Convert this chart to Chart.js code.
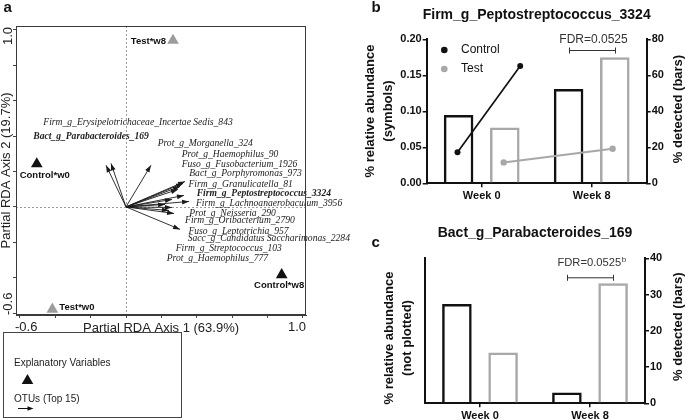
<!DOCTYPE html>
<html>
<head>
<meta charset="utf-8">
<script src="https://cdn.jsdelivr.net/npm/chart.js@4.4.1/dist/chart.umd.min.js"></script>
<style>
html,body{margin:0;padding:0;background:#ffffff;}
body{width:685px;height:420px;position:relative;overflow:hidden;}
.box{position:absolute;}
</style>
</head>
<body>
<div class="box" style="left:0;top:0;width:360px;height:420px;"><canvas id="chartA"></canvas></div>
<div class="box" style="left:360px;top:0;width:325px;height:210px;"><canvas id="chartB"></canvas></div>
<div class="box" style="left:360px;top:0;width:325px;height:210px;"><canvas id="chartBSymbols"></canvas></div>
<div class="box" style="left:360px;top:210px;width:325px;height:210px;"><canvas id="chartC"></canvas></div>
<script>
// ================= DATA =================
// Panel a: partial RDA biplot
const rdaTickValues = [-0.6, -0.4, -0.2, 0, 0.2, 0.4, 0.6, 0.8, 1.0];
const rdaTickLabels = ['-0.6', '', '', '', '', '', '', '', '1.0'];
const axis1Title = 'Partial RDA Axis 1 (63.9%)';
const axis2Title = 'Partial RDA Axis 2 (19.7%)';

const groupNames = ['Test*w8', 'Control*w0', 'Control*w8', 'Test*w0'];
const groupArm = ['Test', 'Control', 'Control', 'Test'];
const groupAxis1 = [0.266, -0.505, 0.881, -0.417];
const groupAxis2 = [0.941, 0.243, -0.384, -0.579];

const otuNames = [
  'Firm_g_Erysipelotrichaceae_Incertae Sedis_843',
  'Bact_g_Parabacteroides_169',
  'Prot_g_Morganella_324',
  'Prot_g_Haemophilus_90',
  'Fuso_g_Fusobacterium_1926',
  'Bact_g_Porphyromonas_973',
  'Firm_g_Granulicatella_81',
  'Firm_g_Peptostreptococcus_3324',
  'Firm_g_Lachnoanaerobaculum_3956',
  'Prot_g_Neisseria_290',
  'Firm_g_Oribacterium_2790',
  'Fuso_g_Leptotrichia_957',
  'Sacc_g_Candidatus Saccharimonas_2284',
  'Firm_g_Streptococcus_103',
  'Prot_g_Haemophilus_777'
];
const otuAxis1 = [-0.113, -0.085, 0.141, 0.334, 0.323, 0.306, 0.294, 0.328, 0.357, 0.272, 0.243, 0.306, 0.221, 0.260, 0.260];
const otuAxis2 = [0.235, 0.246, 0.235, 0.144, 0.133, 0.116, 0.099, 0.065, 0.031, -0.037, -0.020, -0.127, 0.014, 0.042, -0.003];
const highlightedOtus = ['Bact_g_Parabacteroides_169', 'Firm_g_Peptostreptococcus_3324'];

// Panels b and c
const weekLabels = ['Week 0', 'Week 8'];
const armLabels = ['Control', 'Test'];

const peptoTitle = 'Firm_g_Peptostreptococcus_3324';
const peptoDetectedControl = [38, 52.4];
const peptoDetectedTest = [31, 70];
const peptoAbundControl = [0.043, 0.163];
const peptoAbundTest = [0.029, 0.048];
const peptoAbundTicks = [0, 0.05, 0.10, 0.15, 0.20];
const peptoDetectTicks = [0, 20, 40, 60, 80];
const peptoFdr = 'FDR=0.0525';

const paraTitle = 'Bact_g_Parabacteroides_169';
const paraDetectedControl = [27.4, 3.0];
const paraDetectedTest = [14.0, 33.1];
const paraDetectTicks = [0, 10, 20, 30, 40];
const paraFdr = 'FDR=0.0525';
const paraFdrNote = 'b';

// ================= LAYOUT / STYLE =================
const fontSans = 'Arial, "Liberation Sans", Helvetica, sans-serif';
const fontSerif = '"Liberation Serif", "Times New Roman", Times, serif';
const BLACK = '#111111';
const GREY = '#a8a8a8';
const TRI_GREY = '#9c9c9c';

// OTU label anchors (in RDA axis units)
const otuLabelAnchors = [
  [-0.468, 0.476], [-0.525, 0.400], [0.179, 0.357], [0.315, 0.297], [0.315, 0.240],
  [0.358, 0.191], [0.353, 0.127], [0.400, 0.075], [0.396, 0.018], [0.358, -0.038],
  [0.334, -0.076], [0.353, -0.137], [0.349, -0.180], [0.281, -0.233], [0.230, -0.289]
];
// label offsets (px) from each triangle: [dx, dy, align]
const groupLabelOffsets = [[-7, 1, 'right'], [8, 11, 'center'], [-2.5, 10.5, 'center'], [7, -1.5, 'left']];
// horizontal positions (week-axis units) of the abundance symbols
const peptoSymbolPosControl = [-0.22, 0.35];
const peptoSymbolPosTest = [0.20, 1.19];
// panel b plot box (px inside its canvas)
const B_BOX = { left: 66.7, right: 38.3, top: 39.3, bottom: 26.7 };

// ================= HELPERS =================
function vtext(ctx, txt, x, y, font, color, align) {
  ctx.save();
  ctx.translate(x, y);
  ctx.rotate(-Math.PI / 2);
  ctx.font = font;
  ctx.fillStyle = color;
  ctx.textAlign = align || 'center';
  ctx.textBaseline = 'middle';
  ctx.fillText(txt, 0, 0);
  ctx.restore();
}
function arrowHead(ctx, x0, y0, x1, y1, len, half) {
  const a = Math.atan2(y1 - y0, x1 - x0);
  ctx.beginPath();
  ctx.moveTo(x1, y1);
  ctx.lineTo(x1 - len * Math.cos(a) + half * Math.sin(a), y1 - len * Math.sin(a) - half * Math.cos(a));
  ctx.lineTo(x1 - len * Math.cos(a) - half * Math.sin(a), y1 - len * Math.sin(a) + half * Math.cos(a));
  ctx.closePath();
  ctx.fill();
}

// ================= PANEL A =================
const panelAPlugin = {
  id: 'panelA',
  beforeDatasetsDraw(chart) {
    const { ctx, chartArea: ca, scales: { x, y } } = chart;
    ctx.save();
    ctx.strokeStyle = '#9a9a9a';
    ctx.lineWidth = 1;
    ctx.setLineDash([2, 2]);
    const x0 = Math.round(x.getPixelForValue(0)) + 0.5;
    const y0 = Math.round(y.getPixelForValue(0)) + 0.5;
    ctx.beginPath();
    ctx.moveTo(x0, ca.top); ctx.lineTo(x0, ca.bottom);
    ctx.moveTo(ca.left, y0); ctx.lineTo(ca.right, y0);
    ctx.stroke();
    ctx.restore();
  },
  afterDatasetsDraw(chart) {
    const { ctx, scales: { x, y } } = chart;
    ctx.save();
    const ox = x.getPixelForValue(0), oy = y.getPixelForValue(0);
    ctx.fillStyle = '#1a1a1a';
    otuNames.forEach((n, i) => {
      arrowHead(ctx, ox, oy, x.getPixelForValue(otuAxis1[i]), y.getPixelForValue(otuAxis2[i]), 7, 2.4);
    });
    ctx.textAlign = 'left';
    ctx.textBaseline = 'middle';
    ctx.fillStyle = '#222';
    otuNames.forEach((n, i) => {
      const bold = highlightedOtus.includes(n);
      ctx.font = (bold ? 'italic bold ' : 'italic ') + '9.6px ' + fontSerif;
      ctx.fillText(n, x.getPixelForValue(otuLabelAnchors[i][0]), y.getPixelForValue(otuLabelAnchors[i][1]));
    });
    ctx.font = 'bold 9.5px ' + fontSans;
    ctx.fillStyle = '#111';
    groupNames.forEach((n, i) => {
      const o = groupLabelOffsets[i];
      ctx.textAlign = o[2];
      ctx.fillText(n, x.getPixelForValue(groupAxis1[i]) + o[0], y.getPixelForValue(groupAxis2[i]) + o[1]);
    });
    ctx.restore();
  },
  afterDraw(chart) {
    const { ctx, chartArea: ca, scales: { x, y } } = chart;
    ctx.save();
    ctx.strokeStyle = '#3a3a3a';
    ctx.lineWidth = 1;
    ctx.strokeRect(ca.left + 0.5, ca.top + 0.5, ca.right - ca.left - 1, ca.bottom - ca.top - 1);
    // tick labels
    ctx.font = '13px ' + fontSans;
    ctx.fillStyle = '#222';
    ctx.textBaseline = 'middle';
    const last = rdaTickValues.length - 1;
    rdaTickValues.forEach((v, i) => {
      const t = rdaTickLabels[i];
      if (!t) return;
      ctx.textAlign = i === 0 ? 'left' : (i === last ? 'right' : 'center');
      const ax = i === 0 ? ca.left - 1 : (i === last ? ca.right : x.getPixelForValue(v));
      ctx.fillText(t, ax, ca.bottom + 12);
      const ay = i === 0 ? ca.bottom : (i === last ? ca.top + 1 : y.getPixelForValue(v));
      vtext(ctx, t, 8, ay, '13px ' + fontSans, '#222', i === 0 ? 'left' : (i === last ? 'right' : 'center'));
    });
    // axis titles
    ctx.textAlign = 'center';
    ctx.fillText(axis1Title, (ca.left + ca.right) / 2, ca.bottom + 13.5);
    vtext(ctx, axis2Title, 6.5, (ca.top + ca.bottom) / 2, '13px ' + fontSans, '#222');
    // panel letter
    ctx.font = 'bold 15px ' + fontSans;
    ctx.fillStyle = '#111';
    ctx.textAlign = 'left';
    ctx.textBaseline = 'alphabetic';
    ctx.fillText('a', 3.5, 12);
    // legend box
    ctx.strokeStyle = '#444';
    ctx.strokeRect(3.5, 332.5, 178, 85);
    ctx.font = '10px ' + fontSans;
    ctx.fillStyle = '#222';
    ctx.textBaseline = 'middle';
    ctx.fillText('Explanatory Variables', 14, 363);
    ctx.fillText('OTUs (Top 15)', 14, 399.5);
    ctx.fillStyle = '#111';
    ctx.beginPath();
    ctx.moveTo(27.5, 374); ctx.lineTo(33.3, 384); ctx.lineTo(21.7, 384); ctx.closePath();
    ctx.fill();
    ctx.strokeStyle = '#111';
    ctx.beginPath(); ctx.moveTo(18, 408.5); ctx.lineTo(31, 408.5); ctx.stroke();
    arrowHead(ctx, 18, 408.5, 33.5, 408.5, 6, 2.2);
    ctx.restore();
  }
};

const otuDatasets = otuNames.map((n, i) => ({
  type: 'line',
  label: n,
  data: [{ x: 0, y: 0 }, { x: otuAxis1[i], y: otuAxis2[i] }],
  borderColor: '#1a1a1a',
  borderWidth: 0.9,
  pointRadius: 0,
  fill: false,
  tension: 0,
  order: 2
}));
const groupDataset = {
  type: 'scatter',
  label: 'Explanatory Variables',
  data: groupNames.map((n, i) => ({ x: groupAxis1[i], y: groupAxis2[i] })),
  pointStyle: 'triangle',
  pointRadius: 6.75,
  pointBorderWidth: 0,
  pointBackgroundColor: groupArm.map(a => a === 'Test' ? TRI_GREY : BLACK),
  order: 1
};

new Chart(document.getElementById('chartA'), {
  type: 'scatter',
  data: { datasets: [...otuDatasets, groupDataset] },
  options: {
    responsive: true, maintainAspectRatio: false, animation: false,
    layout: { padding: { top: 26, right: 54, left: 0, bottom: 0 } },
    plugins: { legend: { display: false }, tooltip: { enabled: false } },
    scales: {
      x: {
        type: 'linear', min: -0.6226, max: 1.0187,
        afterBuildTicks: s => { s.ticks = rdaTickValues.map(v => ({ value: v })); },
        afterFit: s => { s.height = 105; },
        ticks: { display: false },
        grid: { drawOnChartArea: false, drawTicks: true, tickLength: 3, color: '#444', lineWidth: 1 },
        border: { display: true, color: '#3a3a3a', width: 1 }
      },
      y: {
        type: 'linear', min: -0.611, max: 1.0226,
        afterBuildTicks: s => { s.ticks = rdaTickValues.map(v => ({ value: v })); },
        afterFit: s => { s.width = 16; },
        ticks: { display: false },
        grid: { drawOnChartArea: false, drawTicks: true, tickLength: 3, color: '#444', lineWidth: 1 },
        border: { display: true, color: '#3a3a3a', width: 1 }
      }
    }
  },
  plugins: [panelAPlugin]
});

// ================= PANELS B & C =================
function barPanelPlugin(cfg) {
  return {
    id: 'barPanel_' + cfg.letter,
    afterDraw(chart) {
      const { ctx, chartArea: ca } = chart;
      ctx.save();
      ctx.fillStyle = '#111';
      ctx.font = 'bold 15px ' + fontSans;
      ctx.textAlign = 'left';
      ctx.textBaseline = 'alphabetic';
      ctx.fillText(cfg.letter, 11.5, cfg.letterY);
      ctx.font = 'bold 14px ' + fontSans;
      ctx.textAlign = 'center';
      ctx.textBaseline = 'middle';
      ctx.fillText(cfg.title, (ca.left + ca.right) / 2, cfg.titleY);
      const tf = 'bold 13px ' + fontSans;
      cfg.leftTitle.forEach((t, i) => vtext(ctx, t, ca.left + cfg.leftTitleDx[i], cfg.leftTitleY, tf, '#111'));
      vtext(ctx, cfg.rightTitle, ca.right + cfg.rightTitleDx, cfg.rightTitleY, tf, '#111');
      // FDR bracket between week-8 bars
      const b0 = chart.getDatasetMeta(0).data[1], b1 = chart.getDatasetMeta(1).data[1];
      const bx0 = Math.round(b0.x) + 0.5, bx1 = Math.round(b1.x) + 0.5, by = cfg.bracketY + 0.5;
      ctx.strokeStyle = '#333';
      ctx.lineWidth = 1;
      ctx.beginPath();
      ctx.moveTo(bx0, by); ctx.lineTo(bx1, by);
      ctx.moveTo(bx0, by - 3); ctx.lineTo(bx0, by + 3);
      ctx.moveTo(bx1, by - 3); ctx.lineTo(bx1, by + 3);
      ctx.stroke();
      ctx.fillStyle = '#333';
      ctx.font = cfg.fdrSize + 'px ' + fontSans;
      const w1 = ctx.measureText(cfg.fdr).width;
      let w2 = 0;
      if (cfg.fdrNote) { ctx.font = '8px ' + fontSans; w2 = ctx.measureText(cfg.fdrNote).width; }
      const sx = (bx0 + bx1) / 2 + 1 - (w1 + w2) / 2;
      ctx.textAlign = 'left';
      ctx.font = cfg.fdrSize + 'px ' + fontSans;
      ctx.fillText(cfg.fdr, sx, cfg.fdrY);
      if (cfg.fdrNote) { ctx.font = '8px ' + fontSans; ctx.fillText(cfg.fdrNote, sx + w1 + 0.5, cfg.fdrY - 4); }
      ctx.restore();
    }
  };
}

function barDatasets(ctrl, test) {
  return [
    { type: 'bar', label: armLabels[0] + ' detected', data: ctrl,
      backgroundColor: 'rgba(255,255,255,0)', borderColor: BLACK, borderWidth: 2.5,
      categoryPercentage: 0.84, barPercentage: 0.64 },
    { type: 'bar', label: armLabels[1] + ' detected', data: test,
      backgroundColor: 'rgba(255,255,255,0)', borderColor: GREY, borderWidth: 2.5,
      categoryPercentage: 0.84, barPercentage: 0.64 }
  ].map(d => Object.assign(d, { xAxisID: 'x', yAxisID: 'y2' }));
}
function xScale(h) {
  return {
    type: 'category', offset: true,
    afterFit: s => { s.height = h; },
    grid: { offset: false, drawOnChartArea: false, drawTicks: true, tickLength: 4, color: BLACK, lineWidth: 1.5 },
    border: { display: true, color: BLACK, width: 2 },
    ticks: { font: { family: fontSans, size: 11, weight: 'bold' }, color: BLACK, padding: 2, maxRotation: 0 }
  };
}
function rightScale(ticks, w) {
  return {
    type: 'linear', position: 'right', min: ticks[0], max: ticks[ticks.length - 1],
    afterBuildTicks: s => { s.ticks = ticks.map(v => ({ value: v })); },
    afterFit: s => { s.width = w; },
    grid: { drawOnChartArea: false, drawTicks: true, tickLength: 4, color: BLACK, lineWidth: 1.5 },
    border: { display: true, color: BLACK, width: 2 },
    ticks: { font: { family: fontSans, size: 11, weight: 'bold' }, color: BLACK, padding: 1 }
  };
}

// Panel b: bars (% detected) with both axes
new Chart(document.getElementById('chartB'), {
  type: 'bar',
  data: { labels: weekLabels, datasets: barDatasets(peptoDetectedControl, peptoDetectedTest) },
  options: {
    responsive: true, maintainAspectRatio: false, animation: false,
    layout: { padding: { top: B_BOX.top, right: 0, left: 0, bottom: 0 } },
    plugins: { legend: { display: false }, tooltip: { enabled: false } },
    scales: {
      x: xScale(B_BOX.bottom),
      y: {
        type: 'linear', position: 'left', min: peptoAbundTicks[0], max: peptoAbundTicks[peptoAbundTicks.length - 1],
        afterBuildTicks: s => { s.ticks = peptoAbundTicks.map(v => ({ value: v })); },
        afterFit: s => { s.width = B_BOX.left; },
        grid: { drawOnChartArea: false, drawTicks: true, tickLength: 4, color: BLACK, lineWidth: 1.5 },
        border: { display: true, color: BLACK, width: 2 },
        ticks: { font: { family: fontSans, size: 11, weight: 'bold' }, color: BLACK, padding: 1,
                 callback: v => Number(v).toFixed(2) }
      },
      y2: rightScale(peptoDetectTicks, B_BOX.right)
    }
  },
  plugins: [barPanelPlugin({
    letter: 'b', letterY: 11.5, title: peptoTitle, titleY: 15,
    leftTitle: ['% relative abundance', '(symbols)'], leftTitleDx: [-56.2, -38.2], leftTitleY: 111,
    rightTitle: '% detected (bars)', rightTitleDx: 31.3, rightTitleY: 109,
    fdr: peptoFdr, fdrNote: '', fdrSize: 12, fdrY: 39.3, bracketY: 50
  })]
});

// Panel b: abundance symbols overlaid on the same plot box
const symbolLegendPlugin = {
  id: 'symbolLegend',
  afterDraw(chart) {
    const { ctx } = chart;
    ctx.save();
    ctx.textAlign = 'left';
    ctx.textBaseline = 'middle';
    chart.data.datasets.forEach((d, i) => {
      const ly = 50 + i * 19;
      ctx.fillStyle = d.pointBackgroundColor;
      ctx.beginPath(); ctx.arc(84.3, ly, 3.3, 0, Math.PI * 2); ctx.fill();
      ctx.fillStyle = '#111';
      ctx.font = '12px ' + fontSans;
      ctx.fillText(d.label, 101, ly);
    });
    ctx.restore();
  }
};
new Chart(document.getElementById('chartBSymbols'), {
  type: 'line',
  data: {
    datasets: [
      { label: armLabels[0], data: peptoAbundControl.map((v, i) => ({ x: peptoSymbolPosControl[i], y: v })),
        borderColor: BLACK, borderWidth: 1.7, pointRadius: 3, pointBorderWidth: 0,
        pointBackgroundColor: BLACK, fill: false, tension: 0 },
      { label: armLabels[1], data: peptoAbundTest.map((v, i) => ({ x: peptoSymbolPosTest[i], y: v })),
        borderColor: GREY, borderWidth: 2, pointRadius: 3.2, pointBorderWidth: 0,
        pointBackgroundColor: GREY, fill: false, tension: 0 }
    ]
  },
  options: {
    responsive: true, maintainAspectRatio: false, animation: false,
    layout: { padding: B_BOX },
    plugins: { legend: { display: false }, tooltip: { enabled: false } },
    scales: {
      x: { type: 'linear', display: false, min: -0.5, max: 1.5 },
      y: { type: 'linear', display: false, min: peptoAbundTicks[0], max: peptoAbundTicks[peptoAbundTicks.length - 1] }
    }
  },
  plugins: [symbolLegendPlugin]
});

// Panel c
new Chart(document.getElementById('chartC'), {
  type: 'bar',
  data: { labels: weekLabels, datasets: barDatasets(paraDetectedControl, paraDetectedTest) },
  options: {
    responsive: true, maintainAspectRatio: false, animation: false,
    layout: { padding: { top: 48.3, right: 0, left: 0, bottom: 0 } },
    plugins: { legend: { display: false }, tooltip: { enabled: false } },
    scales: {
      x: xScale(16.7),
      y: {
        type: 'linear', position: 'left', min: 0, max: 1,
        afterFit: s => { s.width = 65; },
        ticks: { display: false },
        grid: { display: false },
        border: { display: true, color: BLACK, width: 2 }
      },
      y2: rightScale(paraDetectTicks, 40)
    }
  },
  plugins: [barPanelPlugin({
    letter: 'c', letterY: 36.7, title: paraTitle, titleY: 23.3,
    leftTitle: ['% relative abundance', '(not plotted)'], leftTitleDx: [-35.5, -17.5], leftTitleY: 128,
    rightTitle: '% detected (bars)', rightTitleDx: 33, rightTitleY: 116.7,
    fdr: paraFdr, fdrNote: paraFdrNote, fdrSize: 11.2, fdrY: 53.3, bracketY: 67.3
  })]
});
</script>
</body>
</html>
